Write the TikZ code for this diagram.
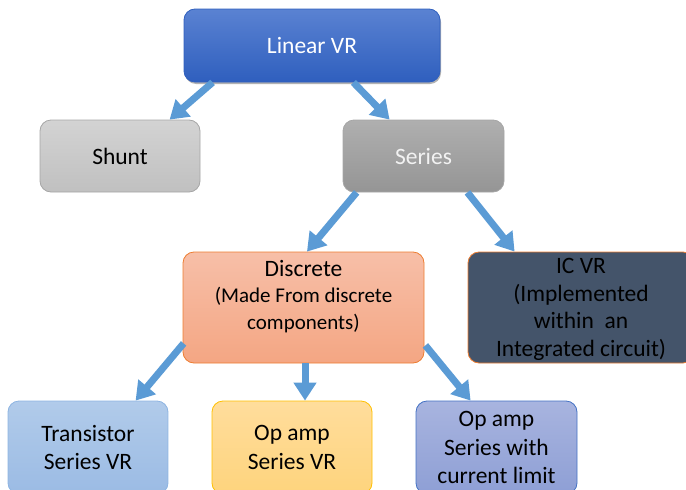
\documentclass[tikz,border=0pt]{standalone}
\usepackage{fontspec}
\setmainfont{Carlito}
\usetikzlibrary{arrows.meta,shadows,calc}
\definecolor{arrowblue}{HTML}{5B9BD5}
\definecolor{lvtop}{HTML}{5A82D2}
\definecolor{lvbot}{HTML}{2F5FBE}
\definecolor{shtop}{HTML}{D3D3D3}
\definecolor{shbot}{HTML}{C0C0C0}
\definecolor{shline}{HTML}{A6A6A6}
\definecolor{setop}{HTML}{AFAFAF}
\definecolor{sebot}{HTML}{959595}
\definecolor{setext}{HTML}{F2F2F2}
\definecolor{ditop}{HTML}{F7BFA8}
\definecolor{dibot}{HTML}{F4A683}
\definecolor{orangeline}{HTML}{ED7D31}
\definecolor{icfill}{HTML}{44546A}
\definecolor{trtop}{HTML}{B1CBEA}
\definecolor{trbot}{HTML}{9BBBE4}
\definecolor{trline}{HTML}{8DB4E2}
\definecolor{optop}{HTML}{FFDD9C}
\definecolor{opbot}{HTML}{FED47D}
\definecolor{opline}{HTML}{FFC000}
\definecolor{cutop}{HTML}{A8B4DF}
\definecolor{cubot}{HTML}{8E9FD5}
\definecolor{culine}{HTML}{4472C4}
\begin{document}
\begin{tikzpicture}[x=1pt,y=-1pt,
  box/.style={rounded corners=11pt, draw, line width=0.8pt, inner sep=0pt,
    align=center, font=\fontsize{23.5}{28.5}\selectfont},
  txt/.style={inner sep=0pt, align=center},
  arr/.style={draw=arrowblue, line width=7pt, -{Triangle[length=18pt,width=22pt]}}
  ]
\clip (0,0) rectangle (686,490);
% top
\node[box, minimum width=256pt, minimum height=73pt, top color=lvtop, bottom color=lvbot,
  draw=lvbot, text=white,
  drop shadow={shadow xshift=1pt, shadow yshift=-2pt, opacity=0.3, fill=black}] (lin) at (312,45.5) {Linear VR};
% second row
\node[box, minimum width=160pt, minimum height=72pt, top color=shtop, bottom color=shbot,
  draw=shline] (shunt) at (120,156) {Shunt};
\node[box, minimum width=161pt, minimum height=72pt, top color=setop, bottom color=sebot,
  draw=shline, text=setext] (series) at (423.5,156) {Series};
% third row
\node[box, minimum width=241pt, minimum height=111pt, top color=ditop, bottom color=dibot,
  draw=orangeline] (disc) at (303.5,307.5) {};
\node[txt, font=\fontsize{21}{26.5}\selectfont] (disct) at (303.5,296.5)
  {{\fontsize{23.5}{26.5}\selectfont Discrete}\\(Made From discrete\\components)};
\node[box, minimum width=226pt, minimum height=111pt, fill=icfill,
  draw=orangeline] (ic) at (581,307.5) {};
\node[txt, font=\fontsize{23.5}{27.7}\selectfont] (ict) at (581,309.5)
  {IC VR\\(Implemented\\within~ an\\Integrated circuit)};
% bottom row
\node[box, minimum width=160pt, minimum height=93pt, top color=trtop, bottom color=trbot,
  draw=trline] (trans) at (88,447.5) {Transistor\\Series VR};
\node[box, minimum width=160pt, minimum height=93pt, top color=optop, bottom color=opbot,
  draw=opline] (opamp) at (292,447.5) {Op amp\\Series VR};
\node[box, minimum width=161pt, minimum height=93pt, top color=cutop, bottom color=cubot,
  draw=culine] (curr) at (496.5,447.5) {Op amp\\Series with\\current limit};
% arrows
\draw[arr] ($(lin.south west)+(29,0)$) -- ($(shunt.north west)+(130,0)$);
\draw[arr] ($(lin.south east)+(-87,0)$) -- ($(series.north west)+(47,0)$);
\draw[arr] ($(series.south west)+(14,0)$) -- ($(disc.north)+(3.5,0)$);
\draw[arr] ($(series.south east)+(-37,0)$) -- ($(ic.north west)+(47,0)$);
\draw[arr] ($(disc.south west)+(1,-20)$) -- ($(trans.north west)+(128,0)$);
\draw[arr] ($(disc.south)+(1.5,0)$) -- ($(opamp.north)+(13,0)$);
\draw[arr] ($(disc.south east)+(1,-18)$) -- ($(curr.north west)+(55,0)$);
\end{tikzpicture}
\end{document}
